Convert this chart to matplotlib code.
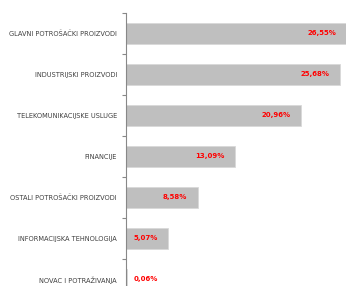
import matplotlib
matplotlib.use("Agg")
import matplotlib.pyplot as plt
import numpy as np

categories = ["GLAVNI POTROŠAČKI PROIZVODI", "INDUSTRIJSKI PROIZVODI", "TELEKOMUNIKACIJSKE USLUGE",
              "FINANCIJE", "OSTALI POTROŠAČKI PROIZVODI", "INFORMACIJSKA TEHNOLOGIJA", "NOVAC I POTRAŽIVANJA"]
values = [26.55, 25.68, 20.96, 13.09, 8.58, 5.07, 0.06]
value_labels = ["26,55%", "25,68%", "20,96%", "13,09%", "8,58%", "5,07%", "0,06%"]

W, H = 346, 286
fig = plt.figure(figsize=(W/100, H/100), dpi=100)
ax = fig.add_axes([126/W, 0, 1 - 126/W, 1 - 13/H])
y = np.arange(len(categories))
ax.barh(y, values, height=0.5, color="#bfbfbf", edgecolor="#d9d9d9", linewidth=0.6)
ax.set_xlim(0, 26.4)
ax.set_ylim(6.16, -0.5)
for i, (v, lab) in enumerate(zip(values, value_labels)):
    ax.text(max(v - 1.26, 3.8), i, lab, ha="right", va="center", color="#ff0000",
            fontsize=5.0, fontweight="bold", family="DejaVu Sans")
ax.set_yticks(y)
ax.set_yticklabels(categories, fontsize=4.75, color="#404040")
ax.tick_params(axis="y", which="major", length=0, pad=6.5)
ax.set_yticks(np.arange(-0.5, 6.0, 1.0), minor=True)
ax.tick_params(axis="y", which="minor", length=3, color="#888888", width=0.8)
ax.set_xticks([])
for s in ["top", "right", "bottom"]:
    ax.spines[s].set_visible(False)
ax.spines["left"].set_color("#888888")
ax.spines["left"].set_linewidth(0.8)
fig.savefig("out.png", dpi=100)
